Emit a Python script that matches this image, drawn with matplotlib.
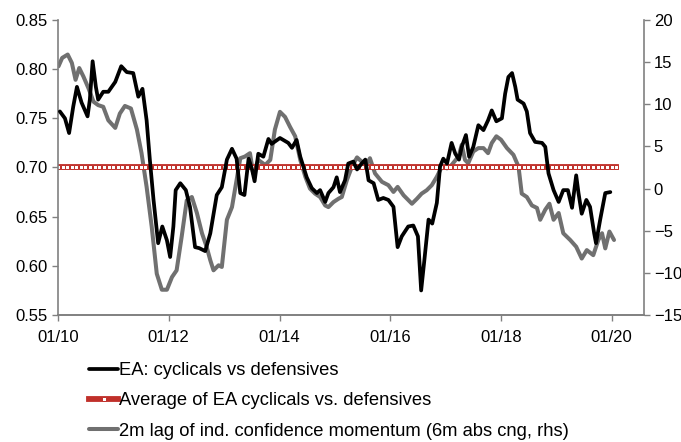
import numpy as np
import pandas as pd
import matplotlib
matplotlib.use("Agg")
import matplotlib.pyplot as plt
import matplotlib.dates as mdates

plt.rcParams['font.family'] = ['Liberation Sans', 'DejaVu Sans']

# months since Jan 2010
cyc_months = [0.4, 1.5, 2.4, 3.3, 4.1, 5.1, 6.4, 6.9, 7.5, 8.2, 8.7, 9.8, 10.9, 12.4, 13.7,
              14.9, 16.3, 17.4, 18.3, 19.2, 19.9, 20.7, 21.7, 22.6, 23.6, 24.3, 25.0, 25.5,
              26.5, 27.7, 28.6, 29.7, 30.6, 31.9, 33.0, 34.4, 35.5, 36.6, 37.7, 38.7, 39.5,
              40.4, 41.3, 42.0, 42.6, 43.4, 44.5, 45.6, 46.3, 48.1, 49.9, 50.7, 51.7, 52.5,
              53.9, 55.0, 56.1, 56.8, 57.9, 58.6, 59.7, 60.4, 61.1, 62.2, 62.9, 64.0, 64.8,
              65.8, 66.6, 67.3, 68.4, 69.4, 70.5, 71.6, 72.7, 73.6, 74.5, 75.9, 77.0, 78.0,
              78.7, 79.4, 80.3, 81.1, 82.1, 82.8, 83.5, 84.3, 85.3, 86.1, 86.9, 87.5, 88.4,
              89.1, 90.0, 91.1, 92.2, 93.2, 94.0, 95.0, 96.2, 96.9, 97.6, 98.4, 99.1, 99.6,
              100.9, 101.6, 102.3, 103.4, 104.9, 105.6, 106.3, 107.4, 108.5, 109.5, 110.5,
              111.4, 112.3, 112.8, 113.5, 114.5, 115.3, 116.2, 116.6, 117.5, 118.6, 119.7]
cyc_values = [0.757, 0.750, 0.735, 0.762, 0.782, 0.766, 0.752, 0.769, 0.808, 0.782, 0.769,
              0.777, 0.777, 0.787, 0.803, 0.797, 0.796, 0.772, 0.780, 0.748, 0.708, 0.667,
              0.623, 0.640, 0.626, 0.609, 0.640, 0.677, 0.684, 0.677, 0.660, 0.619, 0.618,
              0.615, 0.633, 0.672, 0.680, 0.708, 0.719, 0.709, 0.674, 0.672, 0.709, 0.699,
              0.686, 0.714, 0.711, 0.729, 0.724, 0.730, 0.725, 0.720, 0.728, 0.711, 0.690,
              0.679, 0.674, 0.677, 0.665, 0.674, 0.680, 0.690, 0.675, 0.687, 0.704, 0.706,
              0.698, 0.704, 0.708, 0.687, 0.684, 0.667, 0.669, 0.667, 0.660, 0.619, 0.630,
              0.640, 0.641, 0.630, 0.575, 0.606, 0.647, 0.643, 0.664, 0.701, 0.709, 0.704,
              0.725, 0.714, 0.708, 0.721, 0.733, 0.711, 0.721, 0.743, 0.738, 0.748, 0.758,
              0.747, 0.750, 0.775, 0.792, 0.796, 0.782, 0.769, 0.765, 0.757, 0.735, 0.726,
              0.725, 0.721, 0.694, 0.677, 0.665, 0.677, 0.677, 0.659, 0.692, 0.674, 0.653,
              0.667, 0.660, 0.633, 0.623, 0.647, 0.674, 0.675]

conf_months = [0.1, 0.9, 2.1, 3.0, 3.8, 4.6, 5.5, 6.6, 7.7, 8.7, 9.8, 10.9, 12.4, 13.4, 14.5,
               15.8, 17.1, 18.1, 19.2, 20.3, 21.4, 22.5, 23.6, 24.7, 25.7, 26.8, 27.9, 29.0,
               30.1, 31.2, 32.2, 33.0, 33.7, 34.8, 35.5, 36.6, 37.7, 38.7, 39.5, 40.5, 41.6,
               42.3, 43.4, 44.9, 46.0, 47.0, 48.1, 49.2, 50.3, 51.4, 52.5, 53.6, 54.6, 55.7,
               56.8, 57.9, 58.6, 59.7, 60.8, 61.5, 62.6, 63.7, 64.8, 65.8, 66.6, 67.6, 68.7,
               70.2, 71.6, 72.7, 73.6, 74.9, 76.7, 77.8, 78.8, 79.9, 81.0, 82.1, 83.2, 84.3,
               85.3, 86.8, 87.5, 88.2, 88.9, 90.0, 91.1, 92.2, 93.2, 94.0, 95.0, 96.0, 97.3,
               98.7, 99.8, 100.5, 101.6, 102.7, 103.8, 104.5, 105.6, 106.5, 107.4, 108.5,
               109.5, 111.0, 112.3, 113.5, 114.6, 116.0, 117.1, 117.9, 118.6, 119.5, 120.5]
conf_values = [14.5, 15.5, 15.9, 14.9, 12.9, 14.3, 13.3, 11.9, 10.3, 9.9, 9.7, 8.1, 7.2, 8.9,
               9.8, 9.5, 7.0, 4.2, 0.2, -4.5, -10.1, -12.0, -12.0, -10.5, -9.7, -5.7, -1.4,
               -1.0, -2.9, -5.3, -6.9, -8.5, -9.7, -9.1, -9.3, -3.7, -2.2, 1.0, 3.6, 3.8, 4.2,
               1.8, 3.4, 2.8, 3.4, 7.0, 9.1, 8.5, 7.3, 6.2, 3.4, 1.4, 0.0, -0.6, -1.0, -2.0,
               -2.2, -1.6, -1.2, -1.0, 1.0, 2.6, 3.7, 3.2, 2.6, 3.6, 1.8, 0.8, 0.4, -0.4, 0.2,
               -0.8, -1.8, -1.2, -0.6, -0.2, 0.4, 1.4, 2.6, 2.4, 2.8, 3.8, 5.2, 3.4, 3.0, 4.4,
               4.8, 4.8, 4.2, 5.4, 6.2, 5.8, 4.8, 4.0, 2.6, -0.6, -1.0, -2.0, -2.3, -3.7,
               -2.5, -1.8, -3.7, -2.9, -5.3, -6.1, -6.9, -8.3, -7.3, -7.9, -6.1, -5.3, -7.1,
               -5.1, -6.1]

avg_value = 0.701
avg_dates = pd.date_range('2010-01-01', periods=122, freq='MS')
avg_values = [avg_value] * len(avg_dates)

start = pd.Timestamp('2010-01-01')
def to_dates(months):
    return start + pd.to_timedelta(np.array(months) * 30.4375, unit='D')

cyc_dates = to_dates(cyc_months)
conf_dates = to_dates(conf_months)

fig = plt.figure(figsize=(6.81, 4.42), dpi=100)
ax = fig.add_axes([0.0852, 0.2873, 0.8605, 0.6675])
ax2 = ax.twinx()

l1, = ax.plot(cyc_dates, cyc_values, color='black', lw=2.7, solid_joinstyle='round',
              solid_capstyle='round', label='EA: cyclicals vs defensives', zorder=3)
l2, = ax.plot(avg_dates, avg_values, color='#c0302a', lw=4.2, marker='s', markersize=3.4,
              markerfacecolor='white', markeredgecolor='#c0302a', markeredgewidth=0.7,
              label='Average of EA cyclicals vs. defensives', zorder=2)
l3, = ax2.plot(conf_dates, conf_values, color='#707070', lw=2.9, solid_joinstyle='round',
               solid_capstyle='round',
               label='2m lag of ind. confidence momentum (6m abs cng, rhs)')

ax.set_zorder(ax2.get_zorder() + 1)
ax.patch.set_visible(False)

ax.set_ylim(0.55, 0.85)
ax.set_yticks(np.arange(0.55, 0.851, 0.05))
ax.yaxis.set_major_formatter(matplotlib.ticker.FormatStrFormatter('%.2f'))
ax2.set_ylim(-15, 20)
ax2.set_yticks(range(-15, 21, 5))

ax.set_xlim(start, start + pd.to_timedelta(127 * 30.4375, unit='D'))
ax.xaxis.set_major_locator(mdates.YearLocator(2, month=1, day=1))
ax.xaxis.set_major_formatter(mdates.DateFormatter('%m/%y'))

for a in (ax, ax2):
    a.spines['top'].set_visible(False)
    for s in ('left', 'right', 'bottom'):
        a.spines[s].set_color('#808080')
        a.spines[s].set_linewidth(1.2)
    a.tick_params(direction='out', length=4, width=1, color='#808080',
                  labelsize=12, labelcolor='black')
ax.spines['right'].set_visible(False)
ax2.spines['left'].set_visible(False)
ax.tick_params(axis='x', pad=7)
ax2.tick_params(axis='y', pad=3)

fig.legend(handles=[l1, l2, l3], loc='upper left', bbox_to_anchor=(0.12, 0.197),
           frameon=False, fontsize=13.2, handlelength=1.6, handletextpad=0.05,
           labelspacing=0.72, borderaxespad=0)

fig.savefig('out.png', dpi=100)
